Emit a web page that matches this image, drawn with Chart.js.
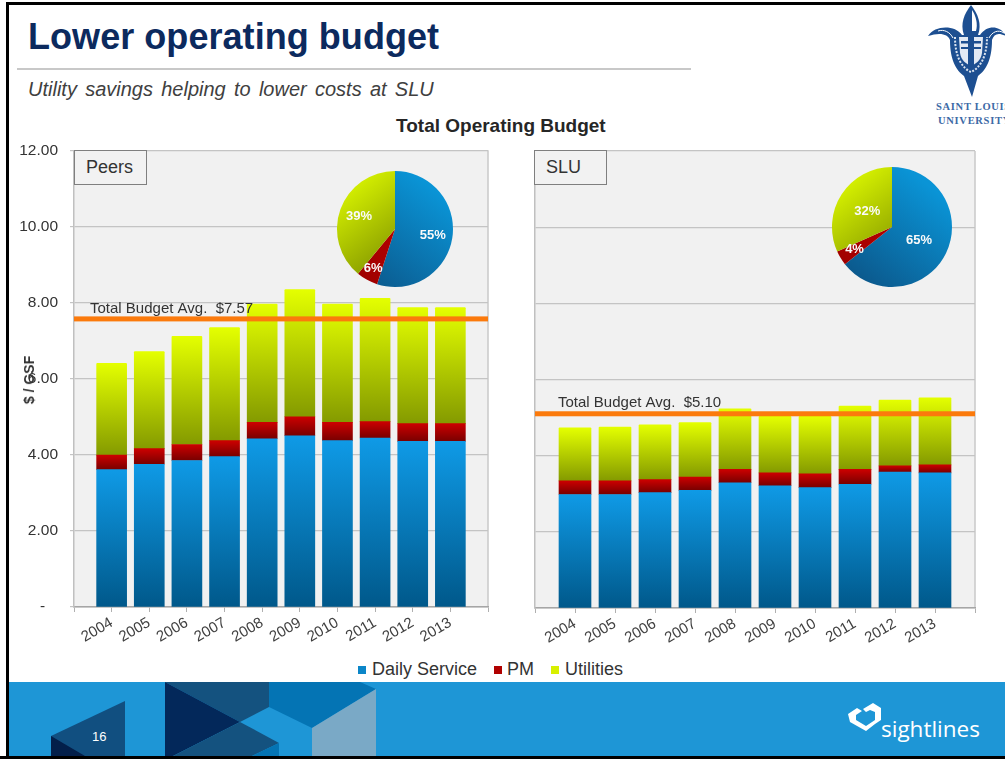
<!DOCTYPE html>
<html>
<head>
<meta charset="utf-8">
<title>Lower operating budget</title>
<script src="https://cdn.jsdelivr.net/npm/chart.js@4"></script>
<style>
    html, body { margin: 0; padding: 0; background: #fff; }
    #slide { position: relative; width: 1005px; height: 759px; overflow: hidden; font-family: "Liberation Sans", Arial, sans-serif; }
    #slide div, #slide canvas, #slide svg { position: absolute; }
    .title { left: 28px; top: 16px; font-size: 36px; font-weight: bold; letter-spacing: 0.05px; color: #0c2a5e; white-space: nowrap; }
    .subtitle { left: 28px; top: 78px; font-size: 20px; font-style: italic; color: #404040; word-spacing: 2.7px; white-space: nowrap; }
    .rule { left: 17px; top: 68px; width: 674px; height: 2px; background: #c8c8c8; }
    .chartTitle { left: 396px; top: 115px; font-size: 19px; font-weight: bold; color: #262626; white-space: nowrap; }
    .panelBox { box-sizing: border-box; height: 35px; width: 73px; border: 1px solid #7f7f7f; background: #f2f2f2; color: #333; font-size: 18px; line-height: 33px; padding-left: 11px; }
    .axisTitle { left: 29px; top: 380px; font-size: 14px; font-weight: bold; color: #333; transform: translate(-50%, -50%) rotate(-90deg); white-space: nowrap; }
    .legendMark { width: 8px; height: 8px; top: 666px; }
    .legendText { top: 659px; font-size: 18px; color: #333; white-space: nowrap; }
    .frame { background: #000; }
    .pageNumber { left: 92px; top: 729px; font-size: 13px; color: #fff; }
    .brand { left: 881px; top: 713px; font-family: "Open Sans", sans-serif; font-size: 22.5px; color: #fff; white-space: nowrap; }
    .school { font-family: "Liberation Serif", serif; font-weight: bold; font-size: 10.5px; letter-spacing: 0.7px; color: #3c6aa6; white-space: nowrap; }
</style>
</head>
<body>
<div id="slide">
    <div class="frame" style="left:6px;top:2px;width:999px;height:3px"></div>
    <div class="frame" style="left:6px;top:2px;width:3px;height:757px"></div>

    <div class="title">Lower operating budget</div>
    <div class="rule"></div>
    <div class="subtitle">Utility savings helping to lower costs at SLU</div>
    <div class="chartTitle">Total Operating Budget</div>

    <svg style="left:920px;top:0" width="85" height="100" viewBox="920 0 85 100">
        <path fill="#1d4f91" d="M971 5 C964 14 960 24 964 35 L978 35 C982 24 978 14 971 5 Z"/>
        <path fill="#fff" d="M972 10 C976 16 978 24 976 31 L972 31 Z"/>
        <path fill="#1d4f91" d="M928 36 C935 25 955 25 962 35 L980 35 C987 25 1000 25 1006 36 C998 32 994 34 992 40 C992 60 986 70 978 76 L972 97 L964 76 C956 70 950 60 950 40 C948 34 940 32 928 36 Z"/>
        <path fill="none" stroke="#fff" stroke-width="1" d="M938 31 C944 29 950 32 953 38 M1004 33 C998 29 992 32 989 38"/>
        <path fill="none" stroke="#dbe4f0" stroke-width="2" stroke-dasharray="2 1.5" d="M955 37 C955 57 962 68 971 72 C980 68 987 57 987 37"/>
        <path fill="#e3eaf4" d="M959 37 H983 L982 53 C981 60 976 64 971 66 C966 64 961 60 960 53 Z"/>
        <path fill="#1d4f91" d="M961 41 H981 V43.5 H961 Z M961 47 H981 V49 H961 Z M968 37 H974 V66 H968 Z"/>
        <path fill="none" stroke="#fff" stroke-width="1.2" d="M962 76 C958 78 956 76 955 74 M980 76 C984 78 986 76 987 74"/>
    </svg>
    <div class="school" style="left:936px;top:101px">SAINT LOUIS</div>
    <div class="school" style="left:938px;top:115px">UNIVERSITY</div>

    <canvas id="peersChart" style="left:0;top:129px" width="500" height="521"></canvas>
    <canvas id="sluChart" style="left:505px;top:141px" width="490" height="510"></canvas>
    <canvas id="peersPie" style="left:330px;top:164px" width="130" height="130"></canvas>
    <canvas id="sluPie" style="left:827px;top:162px" width="130" height="130"></canvas>

    <div class="panelBox" style="left:74px;top:150px">Peers</div>
    <div class="panelBox" style="left:534px;top:150px">SLU</div>
    <div class="axisTitle">$ / GSF</div>

    <div id="legend"></div>

    <svg style="left:0;top:682px" width="1005" height="77" viewBox="0 682 1005 77">
        <rect x="9" y="682" width="996" height="74" fill="#1e96d6"/>
        <polygon points="51,736 125,701 125,756 51,756" fill="#114f80"/>
        <polygon points="51,736 85,756 51,756" fill="#031f4a"/>
        <polygon points="165,682 269,682 269,707 240,722" fill="#14527f"/>
        <polygon points="165,682 240,722 173,756 165,756" fill="#03285a"/>
        <polygon points="240,722 279,743 252,756 173,756" fill="#14527f"/>
        <polygon points="279,743 279,756 252,756" fill="#0474b4"/>
        <polygon points="269,682 360,682 376,689 312,728 269,707" fill="#0474b4"/>
        <polygon points="312,728 376,689 376,756 312,756" fill="#7aa9c6"/>
        <polygon points="863,709 873,703 881,708 881,720 875,724 875,712 870,710 866,712" fill="#fff"/>
        <polygon points="848,714 857,708 862,711 856,715 856,720 866,726 875,720 875,724 866,731 850,722" fill="#fff"/>
        <rect x="0" y="756" width="1005" height="3" fill="#000"/>
    </svg>
    <div class="pageNumber">16</div>
    <div class="brand">sightlines</div>
</div>

<script>
    var years = ["2004", "2005", "2006", "2007", "2008", "2009", "2010", "2011", "2012", "2013"];
    var seriesNames = ["Daily Service", "PM", "Utilities"];

    var peersDaily = [3.61, 3.75, 3.85, 3.95, 4.42, 4.50, 4.37, 4.44, 4.35, 4.35];
    var peersPm = [0.38, 0.41, 0.42, 0.42, 0.43, 0.50, 0.48, 0.43, 0.47, 0.47];
    var peersUtilities = [2.41, 2.55, 2.84, 2.97, 3.11, 3.34, 3.11, 3.24, 3.05, 3.05];
    var peersAverage = 7.57;
    var peersShares = [55, 6, 39];

    var sluDaily = [2.98, 2.98, 3.03, 3.09, 3.29, 3.21, 3.16, 3.25, 3.57, 3.55];
    var sluPm = [0.36, 0.36, 0.34, 0.35, 0.35, 0.34, 0.36, 0.39, 0.16, 0.21];
    var sluUtilities = [1.39, 1.41, 1.44, 1.43, 1.59, 1.48, 1.51, 1.66, 1.73, 1.76];
    var sluAverage = 5.10;
    var sluShares = [65, 4, 32];

    var barColors = [["#0f9ae6", "#00588a"], ["#cc0000", "#780000"], ["#e4ff00", "#849a00"]];
    var legendColors = ["#0b86c8", "#b00000", "#d8f000"];
    var pieColors = [["#0a94d6", "#0b5a8e"], ["#c40000", "#a00000"], ["#dcf800", "#8a9e00"]];

    // gradient over one stacked segment, from the scale
    function barGradient(stops) {
        return function (ctx) {
            var chart = ctx.chart;
            if (!chart.chartArea || ctx.type !== "data" || ctx.raw === null) {
                return stops[0];
            }
            var sum = 0;
            for (var i = 0; i <= ctx.datasetIndex; i++) {
                sum += chart.data.datasets[i].data[ctx.dataIndex] || 0;
            }
            var y = chart.scales.y;
            var g = chart.ctx.createLinearGradient(0, y.getPixelForValue(sum), 0, y.getPixelForValue(sum - ctx.raw));
            g.addColorStop(0, stops[0]);
            g.addColorStop(1, stops[1]);
            return g;
        };
    }

    function padded(values, blank) {
        return [blank].concat(values, [blank]);
    }

    function drawBars(canvasId, daily, pm, utilities, average, avgLabel, options) {
        var ctx = document.getElementById(canvasId).getContext("2d");

        var panelPlugin = {
            id: "panel",
            beforeDraw: function (chart) {
                var a = chart.chartArea, c = chart.ctx;
                c.save();
                c.fillStyle = "#f1f1f1";
                c.fillRect(a.left, a.top, a.right - a.left, a.bottom - a.top);
                c.strokeStyle = "#c8c8c8";
                c.lineWidth = 1.5;
                c.beginPath();
                c.moveTo(a.right, a.top);
                c.lineTo(a.right, a.bottom);
                c.stroke();
                c.restore();
            },
            afterDatasetsDraw: function (chart) {
                var a = chart.chartArea, c = chart.ctx;
                var py = chart.scales.y.getPixelForValue(average);
                c.save();
                c.fillStyle = "#fb7a0c";
                c.fillRect(a.left, py - 2.5, a.right - a.left, 5);
                c.fillStyle = "#333";
                c.font = "15px 'Liberation Sans', Arial, sans-serif";
                c.textBaseline = "bottom";
                c.fillText(avgLabel, a.left + options.labelOffset, py - 3);
                c.restore();
            }
        };

        return new Chart(ctx, {
            type: "bar",
            plugins: [panelPlugin],
            data: {
                labels: padded(years, ""),
                datasets: [
                    { label: seriesNames[0], data: padded(daily, null), backgroundColor: barGradient(barColors[0]) },
                    { label: seriesNames[1], data: padded(pm, null), backgroundColor: barGradient(barColors[1]) },
                    { label: seriesNames[2], data: padded(utilities, null), backgroundColor: barGradient(barColors[2]), borderRadius: 1 }
                ]
            },
            options: {
                responsive: false,
                animation: false,
                barThickness: options.barWidth,
                layout: { padding: { top: options.topPad, right: options.rightPad, left: 0, bottom: 0 } },
                plugins: { legend: { display: false }, tooltip: { enabled: false } },
                scales: {
                    x: {
                        stacked: true,
                        offset: false,
                        afterFit: function (scale) { scale.height = 43; },
                        grid: { offset: false, drawOnChartArea: false, color: "#b0b0b0", tickLength: 5 },
                        border: { color: "#a6a6a6", width: 1.5 },
                        ticks: {
                            autoSkip: false,
                            minRotation: 30,
                            maxRotation: 30,
                            padding: 2,
                            color: "#404040",
                            font: { family: "'Liberation Sans', Arial, sans-serif", size: 15 }
                        }
                    },
                    y: {
                        stacked: true,
                        min: 0,
                        max: 12,
                        afterFit: function (scale) { scale.width = options.axisWidth; },
                        grid: { color: "#c4c4c4", lineWidth: 1.2, drawTicks: options.showLabels, tickLength: 4 },
                        border: { color: "#c0c0c0", width: 1.5 },
                        ticks: {
                            display: options.showLabels,
                            stepSize: 2,
                            padding: 12,
                            color: "#333",
                            font: { family: "'Liberation Sans', Arial, sans-serif", size: 15.5 },
                            callback: function (value) { return value === 0 ? "-   " : value.toFixed(2); }
                        }
                    }
                }
            }
        });
    }

    // share labels sit on the slice's mid angle, at a fraction of the radius
    var sliceLabels = {
        id: "sliceLabels",
        afterDatasetsDraw: function (chart) {
            var c = chart.ctx;
            var ds = chart.data.datasets[0];
            c.save();
            c.fillStyle = "#fafafa";
            c.font = "bold 13px 'Liberation Sans', Arial, sans-serif";
            c.textAlign = "center";
            c.textBaseline = "middle";
            chart.getDatasetMeta(0).data.forEach(function (arc, i) {
                var mid = (arc.startAngle + arc.endAngle) / 2;
                var r = arc.outerRadius * ds.labelRadius[i];
                c.fillText(ds.data[i] + "%", arc.x + Math.cos(mid) * r, arc.y + Math.sin(mid) * r);
            });
            c.restore();
        }
    };

    function pieGradient(ctx) {
        var a = ctx.chart.chartArea;
        var stops = pieColors[ctx.dataIndex] || pieColors[0];
        if (!a || ctx.type !== "data") {
            return stops[0];
        }
        var g;
        if (ctx.dataIndex === 2) {
            g = ctx.chart.ctx.createLinearGradient(a.left + 10, a.top + 20, a.left + 65, a.top + 90);
        } else {
            g = ctx.chart.ctx.createLinearGradient(a.right - 20, a.top + 30, a.left + 40, a.bottom - 10);
        }
        g.addColorStop(0, stops[0]);
        g.addColorStop(1, stops[1]);
        return g;
    }

    function drawPie(canvasId, shares, radius, labelRadius) {
        var ctx = document.getElementById(canvasId).getContext("2d");
        return new Chart(ctx, {
            type: "pie",
            plugins: [sliceLabels],
            data: {
                labels: seriesNames,
                datasets: [{
                    data: shares,
                    labelRadius: labelRadius,
                    borderWidth: 0,
                    backgroundColor: pieGradient
                }]
            },
            options: {
                responsive: false,
                animation: false,
                radius: radius,
                plugins: { legend: { display: false }, tooltip: { enabled: false } }
            }
        });
    }

    function drawLegend() {
        var marks = [358, 494, 551];
        var texts = [372, 507, 565];
        var holder = document.getElementById("legend");
        seriesNames.forEach(function (name, i) {
            var mark = document.createElement("div");
            mark.className = "legendMark";
            mark.style.left = marks[i] + "px";
            mark.style.background = legendColors[i];
            holder.appendChild(mark);
            var text = document.createElement("div");
            text.className = "legendText";
            text.style.left = texts[i] + "px";
            text.textContent = name;
            holder.appendChild(text);
        });
    }

    drawBars("peersChart", peersDaily, peersPm, peersUtilities, peersAverage, "Total Budget Avg.  $" + peersAverage.toFixed(2),
        { barWidth: 30, axisWidth: 74, rightPad: 12, topPad: 0, showLabels: true, labelOffset: 16 });
    drawBars("sluChart", sluDaily, sluPm, sluUtilities, sluAverage, "Total Budget Avg.  $" + sluAverage.toFixed(2),
        { barWidth: 32, axisWidth: 30, rightPad: 20, topPad: 10, showLabels: false, labelOffset: 23 });
    drawPie("peersPie", peersShares, 58, [0.66, 0.78, 0.66]);
    drawPie("sluPie", sluShares, 60, [0.5, 0.73, 0.49]);
    drawLegend();
</script>
</body>
</html>
